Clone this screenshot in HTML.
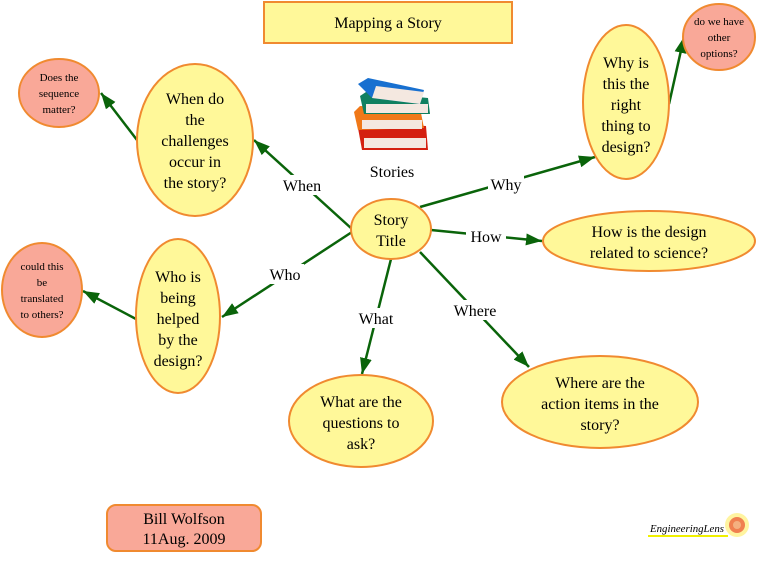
<!DOCTYPE html>
<html><head><meta charset="utf-8"><style>
html,body{margin:0;padding:0;background:#fff;}
svg{display:block;}
text{font-family:"Liberation Serif",serif;fill:#000;}
.n{font-size:16px;text-anchor:middle;}
.s{font-size:11px;text-anchor:middle;}
.l{font-size:16px;text-anchor:middle;}
.y{fill:#fff899;stroke:#f08a30;stroke-width:2;}
.p{fill:#f9a898;stroke:#f08a30;stroke-width:2;}
.ln{stroke:#0a640a;stroke-width:2.5;fill:none;}
</style></head><body>
<svg width="764" height="564" viewBox="0 0 764 564" xmlns="http://www.w3.org/2000/svg">
<defs>
<marker id="b" viewBox="0 0 16 12" markerWidth="16" markerHeight="12" refX="16" refY="6" orient="auto" markerUnits="userSpaceOnUse"><path d="M0,0 L16,6 L0,12 z" fill="#0a640a"/></marker>
</defs>
<line class="ln" x1="352" y1="229" x2="254" y2="140" marker-end="url(#b)"/>
<line class="ln" x1="352" y1="232" x2="222" y2="317" marker-end="url(#b)"/>
<line class="ln" x1="391" y1="259" x2="362" y2="374" marker-end="url(#b)"/>
<line class="ln" x1="420" y1="252" x2="529" y2="367" marker-end="url(#b)"/>
<line class="ln" x1="431" y1="230" x2="542" y2="241" marker-end="url(#b)"/>
<line class="ln" x1="420" y1="207" x2="595" y2="157" marker-end="url(#b)"/>
<line class="ln" x1="669" y1="104" x2="684" y2="37" marker-end="url(#b)"/>
<line class="ln" x1="137" y1="140" x2="101" y2="93" marker-end="url(#b)"/>
<line class="ln" x1="136" y1="319" x2="83" y2="291" marker-end="url(#b)"/>
<rect x="281" y="175" width="42" height="20" fill="#fff"/><text class="l" x="302" y="191">When</text>
<rect x="266" y="264" width="38" height="20" fill="#fff"/><text class="l" x="285" y="280">Who</text>
<rect x="354" y="308" width="44" height="20" fill="#fff"/><text class="l" x="376" y="324">What</text>
<rect x="449" y="300" width="52" height="20" fill="#fff"/><text class="l" x="475" y="316">Where</text>
<rect x="466" y="227" width="40" height="20" fill="#fff"/><text class="l" x="486" y="242">How</text>
<rect x="488" y="174" width="36" height="20" fill="#fff"/><text class="l" x="506" y="190">Why</text>
<rect x="264" y="2" width="248" height="41" class="y" stroke-width="2.5"/>
<text class="n" x="388" y="28">Mapping a Story</text>
<g>
<path d="M358,128 L364,122 L426,126 L428,150 L362,150 Z" fill="#d42010"/>
<rect x="364" y="138" width="62" height="10" fill="#f4e8e0"/>
<path d="M354,112 L360,106 L420,108 L424,128 L358,130 Z" fill="#f07818"/>
<rect x="362" y="120" width="60" height="9" fill="#f4e8e0"/>
<path d="M360,96 L366,92 L428,98 L430,114 L364,114 Z" fill="#108060"/>
<rect x="366" y="104" width="62" height="9" fill="#f4e8e0"/>
<path d="M358,84 L368,78 L424,90 L420,104 L372,98 Z" fill="#1870d0"/>
<path d="M372,98 L420,104 L424,92 L376,86 Z" fill="#f4e8e0"/>
</g>
<text class="n" x="392" y="177">Stories</text>
<ellipse class="y" cx="391" cy="229" rx="40" ry="30"/>
<text class="n" x="391" y="225">Story</text><text class="n" x="391" y="246">Title</text>
<ellipse class="y" cx="195" cy="140" rx="58" ry="76"/>
<text class="n" x="195" y="104">When do</text><text class="n" x="195" y="125">the</text><text class="n" x="195" y="146">challenges</text><text class="n" x="195" y="167">occur in</text><text class="n" x="195" y="188">the story?</text>
<ellipse class="y" cx="178" cy="316" rx="42" ry="77"/>
<text class="n" x="178" y="282">Who is</text><text class="n" x="178" y="303">being</text><text class="n" x="178" y="324">helped</text><text class="n" x="178" y="345">by the</text><text class="n" x="178" y="366">design?</text>
<ellipse class="y" cx="361" cy="421" rx="72" ry="46"/>
<text class="n" x="361" y="407">What are the</text><text class="n" x="361" y="428">questions to</text><text class="n" x="361" y="449">ask?</text>
<ellipse class="y" cx="600" cy="402" rx="98" ry="46"/>
<text class="n" x="600" y="388">Where are the</text><text class="n" x="600" y="409">action items in the</text><text class="n" x="600" y="430">story?</text>
<ellipse class="y" cx="649" cy="241" rx="106" ry="30"/>
<text class="n" x="649" y="237">How is the design</text><text class="n" x="649" y="258">related to science?</text>
<ellipse class="y" cx="626" cy="102" rx="43" ry="77"/>
<text class="n" x="626" y="68">Why is</text><text class="n" x="626" y="89">this the</text><text class="n" x="626" y="110">right</text><text class="n" x="626" y="131">thing to</text><text class="n" x="626" y="152">design?</text>
<ellipse class="p" cx="719" cy="37" rx="36" ry="33"/>
<text class="s" x="719" y="25">do we have</text><text class="s" x="719" y="41">other</text><text class="s" x="719" y="57">options?</text>
<ellipse class="p" cx="59" cy="93" rx="40" ry="34"/>
<text class="s" x="59" y="81">Does the</text><text class="s" x="59" y="97">sequence</text><text class="s" x="59" y="113">matter?</text>
<ellipse class="p" cx="42" cy="290" rx="40" ry="47"/>
<text class="s" x="42" y="270">could this</text><text class="s" x="42" y="286">be</text><text class="s" x="42" y="302">translated</text><text class="s" x="42" y="318">to others?</text>
<rect x="107" y="505" width="154" height="46" rx="9" class="p"/>
<text class="n" x="184" y="524">Bill Wolfson</text><text class="n" x="184" y="544">11Aug. 2009</text>
<text x="650" y="532" textLength="74" lengthAdjust="spacingAndGlyphs" style="font-size:11px;font-family:'Liberation Serif',serif;font-style:italic;">EngineeringLens</text>
<line x1="648" y1="536" x2="728" y2="536" stroke="#f0f000" stroke-width="2"/>
<circle cx="737" cy="525" r="12" fill="#fff4a0"/>
<circle cx="737" cy="525" r="8" fill="#f08050"/>
<circle cx="737" cy="525" r="4" fill="#f4b080"/>
</svg>
</body></html>
